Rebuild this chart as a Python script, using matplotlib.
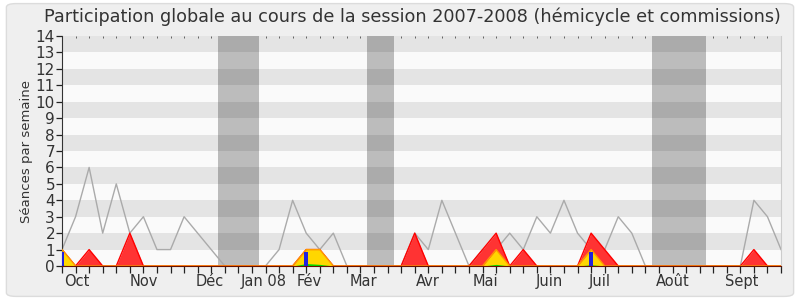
import matplotlib
matplotlib.use("Agg")
import matplotlib.pyplot as plt
from matplotlib.patches import FancyBboxPatch
import numpy as np

# Weekly data (week index 0..53, session 2007-2008)
weeks = list(range(54))
total_median = [1, 3, 6, 2, 5, 2, 3, 1, 1, 3, 2, 1, 0, 0, 0, 0, 1, 4, 2, 1,
                2, 0, 0, 0, 0, 0, 2, 1, 4, 2, 0, 1, 1, 2, 1, 3, 2, 4, 2, 1,
                1, 3, 2, 0, 0, 0, 0, 0, 0, 0, 0, 4, 3, 1]
presences = [1, 0, 1, 0, 0, 2, 0, 0, 0, 0, 0, 0, 0, 0, 0, 0, 0, 0, 1, 1,
             0, 0, 0, 0, 0, 0, 2, 0, 0, 0, 0, 1, 2, 0, 1, 0, 0, 0, 0, 2,
             1, 0, 0, 0, 0, 0, 0, 0, 0, 0, 0, 1, 0, 0]
hemicycle = [1, 0, 0, 0, 0, 0, 0, 0, 0, 0, 0, 0, 0, 0, 0, 0, 0, 0, 1, 1,
             0, 0, 0, 0, 0, 0, 0, 0, 0, 0, 0, 0, 1, 0, 0, 0, 0, 0, 0, 1,
             0, 0, 0, 0, 0, 0, 0, 0, 0, 0, 0, 0, 0, 0]
interventions = [0.05, 0, 0, 0, 0, 0, 0, 0, 0, 0, 0, 0, 0, 0, 0, 0, 0, 0, 0.15, 0.1,
                 0, 0, 0, 0, 0, 0, 0, 0, 0, 0, 0, 0, 0.1, 0, 0, 0, 0, 0, 0, 0.08,
                 0, 0, 0, 0, 0, 0, 0, 0, 0, 0, 0, 0, 0, 0]
questions_weeks = [0, 18, 39]
questions_values = [0.88, 0.88, 0.88]
vacances = [(11.5, 14.5), (22.5, 24.5), (43.5, 47.5)]
month_labels = ["Oct", "Nov", "Déc", "Jan 08", "Fév", "Mar", "Avr", "Mai", "Juin", "Juil", "Août", "Sept"]
month_pos = [1.1, 6.0, 10.9, 14.9, 18.2, 22.2, 27.0, 31.2, 35.9, 39.6, 45.0, 50.1]

plt.rcParams['font.family'] = ['DejaVu Sans']

fig = plt.figure(figsize=(8, 3), dpi=100)
fig.patch.set_facecolor('white')
bg = FancyBboxPatch((0.008, 0.012), 0.984, 0.976, boxstyle="round,pad=0,rounding_size=0.012",
                    transform=fig.transFigure, facecolor='#efefef', edgecolor='#dcdcdc', lw=1.0, zorder=-5)
fig.patches.append(bg)

ax = fig.add_axes([0.0775, 0.1133, 0.8988, 0.7667])
ax.set_zorder(1)
ax.set_facecolor('#fafafa')
ax.set_xlim(0, 53)
ax.set_ylim(0, 14)

for a, b in vacances:
    ax.axvspan(a, b, color='#bcbcbc', lw=0, zorder=0.5)
for y0 in range(1, 14, 2):
    ax.axhspan(y0, y0 + 1, color='black', alpha=0.085, lw=0, zorder=0.6)

ax.plot(weeks, total_median, color='#aaaaaa', lw=1.0, zorder=1)
ax.fill_between(weeks, presences, color='#ff3333', lw=0, zorder=2)
ax.plot(weeks, presences, color='#ff0000', lw=1.0, zorder=2.1)
ax.fill_between(weeks, hemicycle, color='#ffd700', lw=0, zorder=3)
ax.plot(weeks, hemicycle, color='#ff9900', lw=1.0, zorder=3.1)
ax.fill_between(weeks, interventions, color='#00dd00', lw=0, zorder=4)
ax.bar(questions_weeks, questions_values, width=0.3, color='#2222dd', zorder=5)

ax.xaxis.remove_overlapping_locs = False
ax.set_yticks(range(0, 15))
ax.set_xticks(weeks)
ax.set_xticklabels([])
ax.set_xticks(month_pos, minor=True)
ax.set_xticklabels(month_labels, minor=True)
ax.tick_params(axis='x', which='major', direction='out', length=5, width=0.9, color='#222222')
ax.tick_params(axis='x', which='minor', length=0, pad=6, labelsize=10.5, labelcolor='#333333')
ax.tick_params(axis='y', direction='out', length=4, width=0.9, color='#222222', pad=1,
               labelsize=11, labelcolor='#333333')

top = ax.secondary_xaxis('top')
top.set_xticks(weeks)
top.set_xticklabels([])
top.tick_params(direction='in', length=1.5, width=0.6, color='#555555')
top.spines['top'].set_visible(False)

ax.spines['top'].set_visible(False)
ax.spines['right'].set_color('#cccccc')
ax.spines['left'].set_color('#333333')
ax.spines['bottom'].set_color('#661100')
ax.spines['bottom'].set_zorder(6)

ax.set_ylabel("Séances par semaine", fontsize=9.5, color='#333333', labelpad=2)
fig.text(0.516, 0.925, "Participation globale au cours de la session 2007-2008 (hémicycle et commissions)",
         ha='center', va='baseline', fontsize=12.7, color='#333333')

fig.savefig("out.png", dpi=100, facecolor=fig.get_facecolor())
